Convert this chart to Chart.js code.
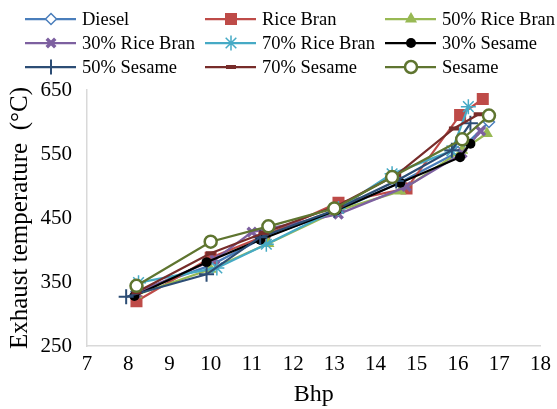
<!DOCTYPE html>
<html>
<head>
<meta charset="utf-8">
<script src="https://cdn.jsdelivr.net/npm/chart.js@4.4.1/dist/chart.umd.min.js"></script>
<style>
  html, body { margin: 0; padding: 0; background: #ffffff; }
  canvas { display: block; }
</style>
</head>
<body>
<canvas id="chart" width="557" height="409"></canvas>
<script>
// Exhaust gas temperature against brake horse power for each fuel blend
const seriesNames = [
  'Diesel', 'Rice Bran', '50% Rice Bran',
  '30% Rice Bran', '70% Rice Bran', '30% Sesame',
  '50% Sesame', '70% Sesame', 'Sesame'
];

const dieselBhp        = [8.2, 10.0, 11.3, 13.1, 14.6, 16.0, 16.75];
const dieselTemp       = [335, 376, 420, 462, 506, 553, 600];

const riceBranBhp      = [8.2, 10.0, 11.3, 13.1, 14.75, 16.05, 16.6];
const riceBranTemp     = [320, 388, 422, 474, 496, 611, 636];

const riceBran50Bhp    = [8.2, 10.0, 11.4, 13.1, 14.6, 16.1, 16.7];
const riceBran50Temp   = [330, 370, 410, 462, 492, 556, 582];

const riceBran30Bhp    = [8.2, 10.1, 11.0, 13.1, 14.75, 16.1, 16.55];
const riceBran30Temp   = [333, 385, 428, 456, 499, 551, 586];

const riceBran70Bhp    = [8.25, 10.15, 11.35, 13.1, 14.4, 15.85, 16.25];
const riceBran70Temp   = [349, 372, 409, 465, 519, 555, 624];

const sesame30Bhp      = [8.15, 9.9, 11.2, 13.05, 14.6, 16.05, 16.3];
const sesame30Temp     = [328, 381, 416, 462, 505, 545, 566];

const sesame50Bhp      = [7.95, 9.9, 11.2, 13.0, 14.5, 15.85, 16.3];
const sesame50Temp     = [327, 362, 420, 462, 508, 556, 598];

const sesame70Bhp      = [8.2, 10.0, 11.3, 13.1, 14.5, 15.9, 16.5];
const sesame70Temp     = [334, 395, 427, 470, 517, 590, 612];

const sesameBhp        = [8.2, 10.0, 11.4, 13.0, 14.4, 16.1, 16.75];
const sesameTemp       = [344, 413, 437, 465, 514, 573, 610];

const xTickValues = [7, 8, 9, 10, 11, 12, 13, 14, 15, 16, 17, 18];
const yTickValues = [250, 350, 450, 550, 650];

function pairs(xs, ys) {
  return xs.map((x, i) => ({ x: x, y: ys[i] }));
}

const seriesData = [
  pairs(dieselBhp, dieselTemp),
  pairs(riceBranBhp, riceBranTemp),
  pairs(riceBran50Bhp, riceBran50Temp),
  pairs(riceBran30Bhp, riceBran30Temp),
  pairs(riceBran70Bhp, riceBran70Temp),
  pairs(sesame30Bhp, sesame30Temp),
  pairs(sesame50Bhp, sesame50Temp),
  pairs(sesame70Bhp, sesame70Temp),
  pairs(sesameBhp, sesameTemp)
];

// line colour, marker style, marker radius, marker fill, marker border width
const seriesStyles = [
  { color: '#4A7EBB', marker: 'rectRot',  radius: 5.5, fill: '#ffffff', mbw: 1.5 },
  { color: '#BE4B48', marker: 'rect',     radius: 8.5, fill: '#BE4B48', mbw: 0 },
  { color: '#98B954', marker: 'triangle', radius: 7,   fill: '#98B954', mbw: 0 },
  { color: '#7D60A0', marker: 'crossRot', radius: 6,   fill: '#7D60A0', mbw: 3.5 },
  { color: '#46AAC5', marker: 'star',     radius: 7.5, fill: '#46AAC5', mbw: 1.5 },
  { color: '#000000', marker: 'circle',   radius: 5,   fill: '#000000', mbw: 0 },
  { color: '#2C4D75', marker: 'cross',    radius: 7.5, fill: '#2C4D75', mbw: 2 },
  { color: '#772C2A', marker: 'line',     radius: 5,   fill: '#772C2A', mbw: 4 },
  { color: '#5F7530', marker: 'circle',   radius: 6,   fill: '#ffffff', mbw: 2.5 }
];

const datasets = seriesNames.map((name, i) => {
  const s = seriesStyles[i];
  return {
    label: name,
    data: seriesData[i],
    showLine: true,
    borderColor: s.color,
    borderWidth: 2.25,
    backgroundColor: s.fill,
    pointStyle: s.marker,
    pointRadius: s.radius,
    pointHoverRadius: s.radius,
    pointBackgroundColor: s.fill,
    pointBorderColor: s.color,
    pointBorderWidth: s.mbw,
    tension: 0,
    order: seriesNames.length - i
  };
});

// Three-column legend above the plot
const gridLegend = {
  id: 'gridLegend',
  afterDraw(chart) {
    const ctx = chart.ctx;
    const cols = [25, 205, 385];
    const rows = [19, 43, 67];
    chart.data.datasets.forEach((ds, i) => {
      const x0 = cols[i % 3];
      const y = rows[Math.floor(i / 3)];
      ctx.save();
      ctx.strokeStyle = ds.borderColor;
      ctx.lineWidth = ds.borderWidth;
      ctx.beginPath();
      ctx.moveTo(x0, y);
      ctx.lineTo(x0 + 51, y);
      ctx.stroke();
      ctx.fillStyle = ds.pointBackgroundColor;
      ctx.strokeStyle = ds.pointBorderColor;
      ctx.lineWidth = ds.pointBorderWidth;
      Chart.helpers.drawPoint(ctx, {
        pointStyle: ds.pointStyle,
        radius: ds.pointRadius,
        borderWidth: ds.pointBorderWidth,
        rotation: 0
      }, x0 + 26, y);
      ctx.fillStyle = '#000000';
      ctx.font = '18.5px "Liberation Serif"';
      ctx.textBaseline = 'middle';
      ctx.textAlign = 'left';
      ctx.fillText(ds.label, x0 + 57, y + 1);
      ctx.restore();
    });
  }
};

Chart.defaults.font.family = '"Liberation Serif", "Times New Roman", serif';
Chart.defaults.color = '#000000';

new Chart(document.getElementById('chart'), {
  type: 'scatter',
  data: { datasets: datasets },
  options: {
    responsive: false,
    animation: false,
    devicePixelRatio: 1,
    layout: { padding: { top: 90, right: 16, left: 0, bottom: 0 } },
    plugins: {
      legend: { display: false },
      tooltip: { enabled: false }
    },
    scales: {
      x: {
        type: 'linear',
        min: xTickValues[0],
        max: xTickValues[xTickValues.length - 1],
        afterBuildTicks(scale) { scale.ticks = xTickValues.map(v => ({ value: v })); },
        ticks: { color: '#000000', font: { size: 21 }, padding: 6, maxRotation: 0 },
        grid: { display: false, drawTicks: false },
        border: { display: true, color: '#D9D9D9', width: 1.5 },
        title: { display: true, text: 'Bhp', color: '#000000', font: { size: 24 }, padding: 0 },
        afterFit(scale) { scale.height = 63; }
      },
      y: {
        type: 'linear',
        min: yTickValues[0],
        max: yTickValues[yTickValues.length - 1],
        afterBuildTicks(scale) { scale.ticks = yTickValues.map(v => ({ value: v })); },
        ticks: { color: '#000000', font: { size: 21 }, padding: 15 },
        grid: { display: false, drawTicks: false },
        border: { display: true, color: '#D9D9D9', width: 1.5 },
        title: {
          display: true,
          text: 'Exhaust temperature  (°C)',
          color: '#000000',
          font: { size: 25 },
          padding: { top: 5, bottom: 0 }
        },
        afterFit(scale) { scale.width = 87; }
      }
    }
  },
  plugins: [gridLegend]
});
</script>
</body>
</html>
